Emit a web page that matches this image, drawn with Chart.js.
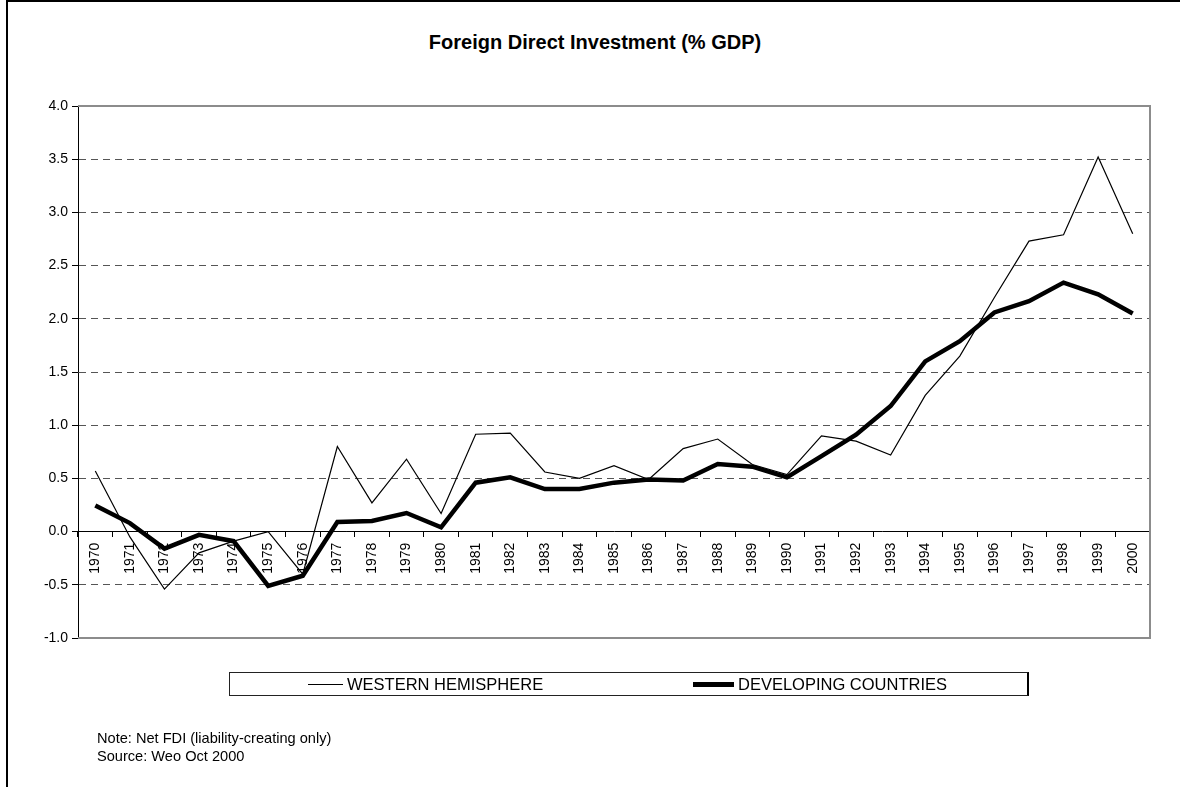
<!DOCTYPE html>
<html>
<head>
<meta charset="utf-8">
<script src="https://cdn.jsdelivr.net/npm/chart.js@4.4.1/dist/chart.umd.min.js"></script>
<style>
  body { margin: 0; background: #fff; font-family: "Liberation Sans", Arial, sans-serif; }
  #page { position: relative; width: 1180px; height: 787px; overflow: hidden; }
  #frame { position: absolute; left: 6px; top: 0; width: 1180px; height: 800px;
           border-top: 2px solid #000; border-left: 2px solid #000; }
  #title { position: absolute; left: 0; top: 30px; width: 1190px; text-align: center;
           font-weight: bold; font-size: 20px; line-height: 24px; color: #000; }
  canvas { position: absolute; left: 0; top: 0; }
  #legend { position: absolute; left: 229px; top: 672px; width: 800px; height: 24px;
            box-sizing: border-box; border: 1px solid #222; border-right: 2px solid #000; }
  .item { position: absolute; top: 0; height: 22px; display: flex; align-items: center;
          font-size: 16.5px; color: #000; white-space: nowrap; }
  .sample { display: inline-block; background: #000; margin-right: 4px; }
  #notes { position: absolute; left: 97px; top: 729px; font-size: 14.6px; line-height: 18px; color: #000; }
</style>
</head>
<body>
<div id="page">
  <div id="frame"></div>
  <div id="title">Foreign Direct Investment (% GDP)</div>
  <canvas id="fdiChart" width="1180" height="787"></canvas>
  <div id="legend"></div>
  <div id="notes">Note: Net FDI (liability-creating only)<br>Source: Weo Oct 2000</div>
</div>
<script>
// data
const years = ["1970", "1971", "1972", "1973", "1974", "1975", "1976", "1977", "1978", "1979",
  "1980", "1981", "1982", "1983", "1984", "1985", "1986", "1987", "1988", "1989",
  "1990", "1991", "1992", "1993", "1994", "1995", "1996", "1997", "1998", "1999", "2000"];

const westernHemisphere = [0.57, -0.05, -0.54, -0.20, -0.09, 0.00, -0.40, 0.80, 0.27, 0.68,
  0.17, 0.915, 0.925, 0.56, 0.50, 0.62, 0.49, 0.78, 0.87, 0.63,
  0.535, 0.90, 0.85, 0.72, 1.28, 1.65, 2.20, 2.73, 2.79, 3.52, 2.80];

const developingCountries = [0.245, 0.08, -0.16, -0.03, -0.09, -0.51, -0.415, 0.09, 0.10, 0.175,
  0.04, 0.46, 0.51, 0.40, 0.40, 0.46, 0.49, 0.48, 0.635, 0.61,
  0.51, 0.71, 0.91, 1.18, 1.60, 1.79, 2.06, 2.165, 2.34, 2.23, 2.05];

const seriesNames = ["WESTERN HEMISPHERE", "DEVELOPING COUNTRIES"];

const tickFont = { family: "'Liberation Sans', Arial, sans-serif", size: 14 };

// garis abu-abu di atas, kanan, bawah area plot
const plotFrame = {
  id: "plotFrame",
  beforeDatasetsDraw(chart) {
    const { ctx, chartArea } = chart;
    ctx.save();
    ctx.strokeStyle = "#8c8c8c";
    ctx.lineWidth = 2;
    ctx.beginPath();
    ctx.moveTo(chartArea.left, chartArea.top);
    ctx.lineTo(chartArea.right, chartArea.top);
    ctx.lineTo(chartArea.right, chartArea.bottom);
    ctx.lineTo(chartArea.left, chartArea.bottom);
    ctx.stroke();
    ctx.restore();
  },
};

const datasets = [
  {
    label: seriesNames[0],
    data: westernHemisphere,
    borderColor: "#000",
    borderWidth: 1.2,
    pointRadius: 0,
    tension: 0,
    order: 2,
  },
  {
    label: seriesNames[1],
    data: developingCountries,
    borderColor: "#000",
    borderWidth: 4.5,
    pointRadius: 0,
    tension: 0,
    order: 1,
  },
];

const config = {
  type: "line",
  data: { labels: years, datasets: datasets },
  options: {
    responsive: false,
    animation: false,
    devicePixelRatio: 1,
    layout: { padding: { left: 0, right: 30, top: 106, bottom: 149 } },
    plugins: {
      legend: { display: false },
      tooltip: { enabled: false },
    },
    scales: {
      x: {
        type: "category",
        position: { y: 0 },
        offset: true,
        grid: {
          offset: true,
          drawOnChartArea: false,
          drawTicks: true,
          tickLength: 5,
          tickColor: "#000",
        },
        border: { color: "#000", width: 1 },
        ticks: {
          autoSkip: false,
          minRotation: 90,
          maxRotation: 90,
          padding: 6,
          color: "#000",
          font: tickFont,
        },
        afterFit: (scale) => {
          scale.height = 0;
        },
      },
      y: {
        min: -1,
        max: 4,
        ticks: {
          stepSize: 0.5,
          padding: 4,
          color: "#000",
          font: tickFont,
          callback: (v) => Number(v).toFixed(1),
        },
        grid: {
          color: (ctx) =>
            ctx.tick && (ctx.tick.value === 4 || ctx.tick.value === -1) ? "rgba(0,0,0,0)" : "#555",
          tickColor: "#000",
          tickLength: 6,
        },
        border: { color: "#000", width: 1, dash: [7, 5] },
        afterFit: (scale) => {
          scale.width = 78;
        },
      },
    },
  },
  plugins: [plotFrame],
};

new Chart(document.getElementById("fdiChart"), config);

// legenda HTML dalam kotak
const legendLefts = [307, 692];
const sampleWidths = [35, 41];
const legendBox = document.getElementById("legend");
datasets.forEach((ds, i) => {
  const item = document.createElement("div");
  item.className = "item";
  item.style.left = (legendLefts[i] - 229) + "px";
  const sample = document.createElement("span");
  sample.className = "sample";
  sample.style.width = sampleWidths[i] + "px";
  sample.style.height = Math.max(1, Math.round(ds.borderWidth)) + "px";
  item.appendChild(sample);
  item.appendChild(document.createTextNode(ds.label));
  legendBox.appendChild(item);
});
</script>
</body>
</html>
